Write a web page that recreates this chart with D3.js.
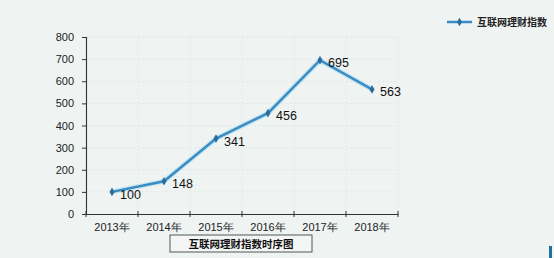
<!DOCTYPE html>
<html>
<head>
<meta charset="utf-8">
<script src="https://cdn.jsdelivr.net/npm/d3@7"></script>
<style>
    body { margin: 0; background: #eff4f3; }
    svg { display: block; font-family: "Liberation Sans", Arial, "Noto Sans CJK SC", sans-serif; }
</style>
</head>
<body>
<div id="chart"></div>
<script>
// Data.
var years = ["2013年", "2014年", "2015年", "2016年", "2017年", "2018年"];
var indexValues = [100, 148, 341, 456, 695, 563];
var yTicks = [0, 100, 200, 300, 400, 500, 600, 700, 800];
var seriesName = "互联网理财指数";
var chartTitle = "互联网理财指数时序图";

var width = 554, height = 258;
var margin = { top: 37, right: 156, bottom: 44, left: 86 };
var innerW = width - margin.left - margin.right;
var innerH = height - margin.top - margin.bottom;

var svg = d3.select("#chart")
    .append("svg")
    .attr("width", width)
    .attr("height", height);

svg.append("rect")
    .attr("width", width)
    .attr("height", height)
    .attr("fill", "#eff4f3");

var g = svg.append("g")
    .attr("transform", "translate(" + margin.left + "," + margin.top + ")");

var x = d3.scaleBand()
    .domain(years)
    .range([0, innerW]);
var y = d3.scaleLinear()
    .domain([0, 800])
    .range([innerH, 0]);

// Grid lines
g.selectAll(".hgrid")
    .data(yTicks.slice(1))
    .enter()
    .append("line")
    .attr("x1", 0)
    .attr("x2", innerW)
    .attr("y1", d => y(d))
    .attr("y2", d => y(d))
    .attr("stroke", "#dfe8e6")
    .attr("stroke-dasharray", "2,2");

g.selectAll(".vgrid")
    .data(years.slice(1).concat(["end"]))
    .enter()
    .append("line")
    .attr("x1", (d, i) => (i + 1) * x.step())
    .attr("x2", (d, i) => (i + 1) * x.step())
    .attr("y1", 0)
    .attr("y2", innerH)
    .attr("stroke", "#dfe8e6")
    .attr("stroke-dasharray", "2,2");

// Axes
var yAxis = g.append("g")
    .call(d3.axisLeft(y).tickValues(yTicks).tickSize(4).tickPadding(8));
var xAxis = g.append("g")
    .attr("transform", "translate(0," + innerH + ")")
    .call(d3.axisBottom(x).tickSize(0).tickPadding(9));

// band edge ticks on x axis
xAxis.selectAll(".edge")
    .data(years.concat(["end"]))
    .enter()
    .append("line")
    .attr("x1", (d, i) => i * x.step())
    .attr("x2", (d, i) => i * x.step())
    .attr("y1", -3)
    .attr("y2", 3)
    .attr("stroke", "#333");

[yAxis, xAxis].forEach(a => {
    a.select(".domain").attr("stroke", "#333").attr("stroke-width", 1.1);
    a.selectAll(".tick line").attr("stroke", "#333");
    a.selectAll("text").attr("fill", "#222").style("font-size", "11px");
});

// Line
var line = d3.line()
    .x((d, i) => x(years[i]) + x.bandwidth() / 2)
    .y(d => y(d));

g.append("path")
    .datum(indexValues)
    .attr("d", line)
    .attr("fill", "none")
    .attr("stroke", "#a8daf0")
    .attr("stroke-width", 5)
    .attr("stroke-opacity", 0.6);
g.append("path")
    .datum(indexValues)
    .attr("d", line)
    .attr("fill", "none")
    .attr("stroke", "#3a8cc4")
    .attr("stroke-width", 2.5);

var diamond = d3.symbol().type(d3.symbolDiamond).size(22);
g.selectAll(".pt")
    .data(indexValues)
    .enter()
    .append("path")
    .attr("d", diamond)
    .attr("transform", (d, i) => "translate(" + (x(years[i]) + x.bandwidth() / 2) + "," + y(d) + ")")
    .attr("fill", "#2a6d9c");

g.selectAll(".lbl")
    .data(indexValues)
    .enter()
    .append("text")
    .attr("x", (d, i) => x(years[i]) + x.bandwidth() / 2 + 8)
    .attr("y", d => y(d) + 7)
    .attr("fill", "#111")
    .style("font-size", "12.5px")
    .text(d => d);

// Title box
var boxW = 142, boxH = 17;
var boxX = margin.left + 84, boxY = 235;
svg.append("rect")
    .attr("x", boxX)
    .attr("y", boxY)
    .attr("width", boxW)
    .attr("height", boxH)
    .attr("fill", "#f4f6f6")
    .attr("stroke", "#555")
    .attr("stroke-width", 1);
svg.append("text")
    .attr("x", boxX + boxW / 2)
    .attr("y", boxY + 12.5)
    .attr("text-anchor", "middle")
    .attr("fill", "#111")
    .style("font-size", "10.5px")
    .style("font-weight", "bold")
    .style("font-family", "'Noto Sans CJK SC', sans-serif")
    .text(chartTitle);

// Legend
var legend = svg.append("g")
    .attr("transform", "translate(447,22)");
legend.append("line")
    .attr("x1", 0).attr("x2", 25)
    .attr("y1", 0).attr("y2", 0)
    .attr("stroke", "#3a8cc4")
    .attr("stroke-width", 2.5);
legend.append("path")
    .attr("d", diamond)
    .attr("transform", "translate(12.5,0)")
    .attr("fill", "#2a6d9c");
legend.append("text")
    .attr("x", 30)
    .attr("y", 3.5)
    .attr("fill", "#222")
    .style("font-size", "10px")
    .style("font-weight", "bold")
    .style("font-family", "'Noto Sans CJK SC', sans-serif")
    .text(seriesName);

// small blue mark at the bottom-right corner
svg.append("rect")
    .attr("x", 549)
    .attr("y", 246)
    .attr("width", 3)
    .attr("height", 12)
    .attr("fill", "#1f6fa0");
</script>
</body>
</html>
